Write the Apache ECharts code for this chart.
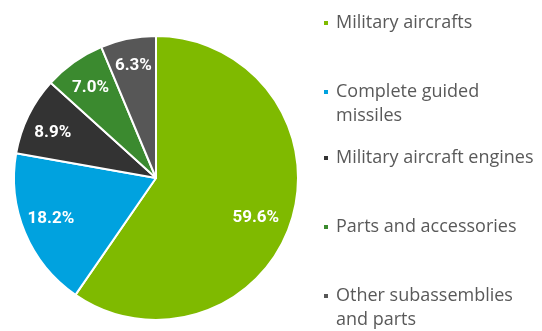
<!DOCTYPE html>
<html>
<head>
<meta charset="utf-8">
<script src="https://cdn.jsdelivr.net/npm/echarts@6/dist/echarts.min.js"></script>
<style>
html,body{margin:0;padding:0;background:#fff;}
#main{width:542px;height:331px;}
</style>
</head>
<body>
<div id="main"></div>
<script>
var categories = ['Military aircrafts', 'Complete guided missiles', 'Military aircraft engines', 'Parts and accessories', 'Other subassemblies and parts'];
var values = [59.6, 18.2, 8.9, 7.0, 6.3];
var colors = ['#7FBA00', '#00A2DF', '#333333', '#3B8A2F', '#575757'];
var legendTexts = ['Military aircrafts', ' \nComplete guided\nmissiles', 'Military aircraft engines', 'Parts and accessories', ' \nOther subassemblies\nand parts'];
var legendLineCenters = [18, 87, 153, 222, 291];
var labelOffsets = [[-10, 6], [1, -4], [0, 5], [1, 4], [0, 1]];

var chart = echarts.init(document.getElementById('main'), null, {renderer: 'canvas'});
var data = categories.map(function (c, i) {
  return {name: c, value: values[i], itemStyle: {color: colors[i]}};
});
var LH = 24;
var legends = categories.map(function (c, i) {
  var lines = legendTexts[i].split('\n').length;
  var h = lines * LH;
  return {
    orient: 'vertical',
    left: 317,
    top: legendLineCenters[i] - h / 2,
    itemWidth: 6,
    itemHeight: 6,
    itemGap: 0,
    icon: 'rect',
    selectedMode: false,
    data: [c],
    formatter: function () { return legendTexts[i]; },
    textStyle: {fontFamily: 'Open Sans', fontSize: 18, color: '#595959', lineHeight: LH, padding: [0, 0, 0, 2]}
  };
});
chart.setOption({
  animation: false,
  legend: legends,
  series: [
    {
      type: 'pie',
      center: [156, 178],
      radius: [0, 142],
      startAngle: 90,
      clockwise: true,
      data: data,
      itemStyle: {borderColor: '#fff', borderWidth: 2},
      label: {show: false},
      labelLine: {show: false}
    },
    {
      type: 'pie',
      center: [156, 178],
      radius: [82, 142],
      startAngle: 90,
      clockwise: true,
      silent: true,
      legendHoverLink: false,
      data: data.map(function (d, i) {
        return {name: d.name, value: d.value, itemStyle: {color: 'rgba(0,0,0,0)'}, label: {offset: labelOffsets[i]}};
      }),
      itemStyle: {borderWidth: 0},
      label: {
        show: true,
        position: 'inside',
        formatter: function (p) { return p.value.toFixed(1) + '%'; },
        color: '#fff',
        fontFamily: 'Roboto',
        fontWeight: 'bold',
        fontSize: 17
      },
      labelLine: {show: false}
    }
  ]
});
</script>
</body>
</html>
